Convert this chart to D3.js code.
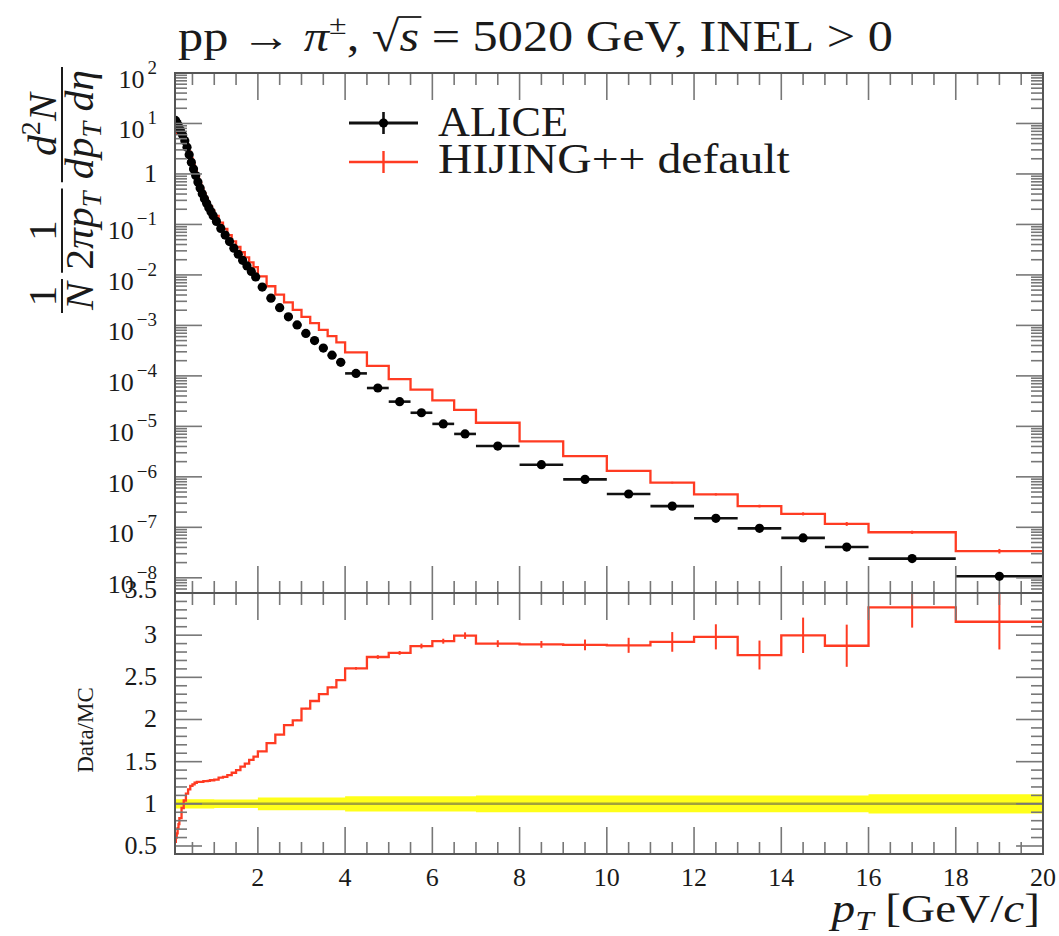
<!DOCTYPE html>
<html>
<head>
<meta charset="utf-8">
<script src="https://cdn.jsdelivr.net/npm/d3@7"></script>
<style>
  body { margin: 0; background: #fff; }
  svg { display: block; }
  text { font-family: 'Liberation Serif', 'DejaVu Serif', serif; fill: #1a1a1a; }
</style>
</head>
<body>
<div id="chart"></div>
<script>
// bin edges in pT [GeV/c]
var ptEdges = [0.1, 0.12, 0.14, 0.16, 0.18, 0.2,
    0.25, 0.3, 0.35, 0.4, 0.45, 0.5, 0.55, 0.6, 0.65, 0.7, 0.75, 0.8, 0.85, 0.9, 0.95, 1.0,
    1.1, 1.2, 1.3, 1.4, 1.5, 1.6, 1.7, 1.8, 1.9, 2.0,
    2.2, 2.4, 2.6, 2.8, 3.0, 3.2, 3.4, 3.6, 3.8, 4.0,
    4.5, 5.0, 5.5, 6.0, 6.5, 7.0,
    8, 9, 10, 11, 12, 13, 14, 15, 16,
    18, 20];

// ALICE invariant yield per bin
var aliceYield = [11.5, 10.7, 10.0, 9.12, 8.32,
    7.24, 5.89, 4.57, 3.39, 2.40, 1.70, 1.26, 0.933, 0.692, 0.525, 0.407, 0.324, 0.263, 0.214, 0.178, 0.148,
    0.115, 0.0832, 0.0617, 0.0457, 0.0339, 0.0257, 0.0195, 0.0151, 0.0117, 0.00912,
    0.00575, 0.00347, 0.00224, 0.00148, 0.00102, 6.92e-4, 5.01e-4, 3.55e-4, 2.57e-4, 1.86e-4,
    1.12e-4, 5.75e-5, 3.09e-5, 1.86e-5, 1.12e-5, 7.08e-6,
    4.07e-6, 1.74e-6, 8.91e-7, 4.57e-7, 2.63e-7, 1.51e-7, 9.55e-8, 6.17e-8, 4.07e-8,
    2.40e-8, 1.07e-8];

// ALICE relative uncertainty (yellow band)
var aliceRelErr = [0.055, 0.055, 0.055, 0.055, 0.055,
    0.055, 0.055, 0.055, 0.055, 0.055, 0.055, 0.055, 0.055, 0.055, 0.055, 0.055, 0.055, 0.055, 0.055, 0.055, 0.055,
    0.05, 0.05, 0.05, 0.05, 0.05, 0.05, 0.05, 0.05, 0.05, 0.05,
    0.075, 0.075, 0.075, 0.075, 0.075, 0.075, 0.075, 0.075, 0.075, 0.075,
    0.09, 0.09, 0.09, 0.09, 0.09, 0.09,
    0.1, 0.1, 0.1, 0.1, 0.1, 0.1, 0.1, 0.1, 0.1,
    0.115, 0.115];

// HIJING++ default per bin
var hijingYield = [6.33, 6.42, 6.50, 6.48, 6.32,
    6.01, 5.60, 4.75, 3.80, 2.81, 2.06, 1.55, 1.166, 0.872, 0.662, 0.513, 0.411, 0.334, 0.272, 0.228, 0.189,
    0.148, 0.109, 0.0814, 0.0612, 0.0464, 0.0360, 0.0281, 0.0223, 0.0178, 0.01423,
    0.00932, 0.00597, 0.00408, 0.00286, 0.00203, 1.474e-3, 1.112e-3, 8.17e-4, 6.12e-4, 4.59e-4,
    2.92e-4, 1.576e-4, 8.62e-5, 5.34e-5, 3.28e-5, 2.12e-5,
    1.18e-5, 5.03e-6, 2.57e-6, 1.316e-6, 7.68e-7, 4.50e-7, 2.64e-7, 1.85e-7, 1.17e-7,
    7.99e-8, 3.38e-8];

// HIJING++ relative statistical error
var hijingRelErr = [0.002, 0.002, 0.002, 0.002, 0.002,
    0.002, 0.002, 0.002, 0.002, 0.002, 0.002, 0.002, 0.002, 0.002, 0.002, 0.002, 0.002, 0.002, 0.002, 0.002, 0.002,
    0.003, 0.003, 0.003, 0.003, 0.003, 0.003, 0.003, 0.003, 0.003, 0.003,
    0.004, 0.004, 0.004, 0.004, 0.004, 0.004, 0.004, 0.004, 0.004, 0.004,
    0.006, 0.008, 0.008, 0.01, 0.01, 0.013,
    0.014, 0.014, 0.022, 0.031, 0.04, 0.05, 0.062, 0.07, 0.087,
    0.072, 0.104];

var xMajorTicks = [2, 4, 6, 8, 10, 12, 14, 16, 18, 20];
var xMinorStep = 0.5;
var yExponents = [-8, -7, -6, -5, -4, -3, -2, -1, 0, 1, 2];
var ratioMajorTicks = [0.5, 1, 1.5, 2, 2.5, 3, 3.5];
var legendLabels = ['ALICE', 'HIJING++ default'];

var W = 1059, H = 936;
var frame = {left: 175, right: 1043, top: 73, mid: 593, bottom: 854};
var majorLen = 27, minorLen = 12;
var red = '#ff3b22';
var tickColor = '#777';

var svg = d3.select('#chart').append('svg')
    .attr('width', W)
    .attr('height', H);

var x = d3.scaleLinear().domain([0.1, 20]).range([frame.left, frame.right]);
var y = d3.scaleLog().domain([5e-9, 100]).range([frame.mid, frame.top]);
var yr = d3.scaleLinear().domain([0.405, 3.5]).range([frame.bottom, frame.mid]);

var bins = aliceYield.map(function(v, i) {
    return {
        lo: ptEdges[i], hi: ptEdges[i + 1], mid: (ptEdges[i] + ptEdges[i + 1]) / 2,
        data: v, dErr: aliceRelErr[i],
        mc: hijingYield[i], mErr: hijingRelErr[i],
        ratio: hijingYield[i] / v
    };
});

// clip paths
var defs = svg.append('defs');
defs.append('clipPath').attr('id', 'clipMain').append('rect')
    .attr('x', frame.left).attr('y', frame.top)
    .attr('width', frame.right - frame.left).attr('height', frame.mid - frame.top);
defs.append('clipPath').attr('id', 'clipRatio').append('rect')
    .attr('x', frame.left).attr('y', frame.mid)
    .attr('width', frame.right - frame.left).attr('height', frame.bottom - frame.mid);

// step points for histograms
function stepPoints(acc) {
    var pts = bins.map(function(b) { return [b.lo, acc(b)]; });
    pts.push([bins[bins.length - 1].hi, acc(bins[bins.length - 1])]);
    return pts;
}

// ---------- ratio panel ----------
var ratioG = svg.append('g').attr('clip-path', 'url(#clipRatio)');

var band = d3.area()
    .x(function(d) { return x(d[0]); })
    .y0(function(d) { return yr(1 - d[1]); })
    .y1(function(d) { return yr(1 + d[1]); })
    .curve(d3.curveStepAfter);
ratioG.append('path')
    .attr('d', band(stepPoints(function(b) { return b.dErr; })))
    .attr('fill', '#ffff1a');

ratioG.append('line')
    .attr('x1', x(0.1)).attr('x2', x(20))
    .attr('y1', yr(1)).attr('y2', yr(1))
    .attr('stroke', '#555').attr('stroke-opacity', 0.55).attr('stroke-width', 2.5);

var ratioLine = d3.line()
    .x(function(d) { return x(d[0]); })
    .y(function(d) { return yr(d[1]); })
    .curve(d3.curveStepAfter);
ratioG.append('path')
    .attr('d', ratioLine(stepPoints(function(b) { return b.ratio; })))
    .attr('fill', 'none').attr('stroke', red).attr('stroke-width', 2.3);

ratioG.selectAll('.rerr').data(bins).enter().append('line')
    .attr('x1', function(d) { return x(d.mid); })
    .attr('x2', function(d) { return x(d.mid); })
    .attr('y1', function(d) { return yr(d.ratio * (1 - d.mErr)); })
    .attr('y2', function(d) { return yr(d.ratio * (1 + d.mErr)); })
    .attr('stroke', red).attr('stroke-width', 2);

// ---------- main panel ----------
var mainG = svg.append('g').attr('clip-path', 'url(#clipMain)');

var mcLine = d3.line()
    .x(function(d) { return x(d[0]); })
    .y(function(d) { return y(d[1]); })
    .curve(d3.curveStepAfter);
mainG.append('path')
    .attr('d', mcLine(stepPoints(function(b) { return b.mc; })))
    .attr('fill', 'none').attr('stroke', red).attr('stroke-width', 2.3);

mainG.selectAll('.merr').data(bins).enter().append('line')
    .attr('x1', function(d) { return x(d.mid); })
    .attr('x2', function(d) { return x(d.mid); })
    .attr('y1', function(d) { return y(d.mc * (1 - d.mErr)); })
    .attr('y2', function(d) { return y(d.mc * (1 + d.mErr)); })
    .attr('stroke', red).attr('stroke-width', 2);

// data: horizontal bin-width bars, vertical error bars, dots
mainG.selectAll('.dx').data(bins).enter().append('line')
    .attr('x1', function(d) { return x(d.lo); })
    .attr('x2', function(d) { return x(d.hi); })
    .attr('y1', function(d) { return y(d.data); })
    .attr('y2', function(d) { return y(d.data); })
    .attr('stroke', '#111').attr('stroke-width', 2.6);
mainG.selectAll('.dy').data(bins).enter().append('line')
    .attr('x1', function(d) { return x(d.mid); })
    .attr('x2', function(d) { return x(d.mid); })
    .attr('y1', function(d) { return y(d.data * (1 - d.dErr)); })
    .attr('y2', function(d) { return y(d.data * (1 + d.dErr)); })
    .attr('stroke', '#111').attr('stroke-width', 2.6);
mainG.selectAll('circle').data(bins).enter().append('circle')
    .attr('cx', function(d) { return x(d.mid); })
    .attr('cy', function(d) { return y(d.data); })
    .attr('r', 4.6)
    .attr('fill', '#000');

// ---------- ticks ----------
var tickG = svg.append('g').attr('stroke', tickColor).attr('stroke-width', 1.6);

var xMinor = d3.range(xMinorStep, 20, xMinorStep).filter(function(v) { return v % 2 !== 0; });

function xTicks(yPos, dir) {
    tickG.selectAll(null).data(xMajorTicks.filter(function(v) { return v < 20; })).enter().append('line')
        .attr('x1', function(d) { return x(d); }).attr('x2', function(d) { return x(d); })
        .attr('y1', yPos).attr('y2', yPos + dir * majorLen);
    tickG.selectAll(null).data(xMinor).enter().append('line')
        .attr('x1', function(d) { return x(d); }).attr('x2', function(d) { return x(d); })
        .attr('y1', yPos).attr('y2', yPos + dir * minorLen);
}
xTicks(frame.top, 1);
xTicks(frame.mid, -1);
xTicks(frame.mid, 1);
xTicks(frame.bottom, -1);

// log y ticks main panel
var logMinor = [];
d3.range(-9, 2).forEach(function(k) {
    d3.range(2, 10).forEach(function(m) {
        var v = m * Math.pow(10, k);
        if (v > 5e-9 && v < 100) logMinor.push(v);
    });
});
var logMajor = yExponents.map(function(k) { return Math.pow(10, k); });

function yTicks(scale, majors, minors, xPos, dir) {
    tickG.selectAll(null).data(majors).enter().append('line')
        .attr('y1', function(d) { return scale(d); }).attr('y2', function(d) { return scale(d); })
        .attr('x1', xPos).attr('x2', xPos + dir * majorLen);
    tickG.selectAll(null).data(minors).enter().append('line')
        .attr('y1', function(d) { return scale(d); }).attr('y2', function(d) { return scale(d); })
        .attr('x1', xPos).attr('x2', xPos + dir * minorLen);
}
yTicks(y, logMajor, logMinor, frame.left, 1);
yTicks(y, logMajor, logMinor, frame.right, -1);

var ratioMinor = d3.range(5, 35).map(function(v) { return v / 10; })
    .filter(function(v) { return Math.round(v * 10) % 5 !== 0; });
yTicks(yr, ratioMajorTicks, ratioMinor, frame.left, 1);
yTicks(yr, ratioMajorTicks, ratioMinor, frame.right, -1);

// frames
svg.append('rect')
    .attr('x', frame.left).attr('y', frame.top)
    .attr('width', frame.right - frame.left).attr('height', frame.bottom - frame.top)
    .attr('fill', 'none').attr('stroke', '#555').attr('stroke-width', 2);
svg.append('line')
    .attr('x1', frame.left).attr('x2', frame.right)
    .attr('y1', frame.mid).attr('y2', frame.mid)
    .attr('stroke', '#555').attr('stroke-width', 2);

// ---------- tick labels ----------
var labelG = svg.append('g');
var labelRight = 157;

yExponents.forEach(function(k) {
    var yy = y(Math.pow(10, k));
    if (k === 0) {
        labelG.append('text').attr('x', labelRight).attr('y', yy + 8)
            .attr('text-anchor', 'end').style('font-size', '26px').text('1');
    } else {
        var t = labelG.append('text').attr('x', labelRight).attr('y', yy + 15)
            .attr('text-anchor', 'end').style('font-size', '26px');
        t.append('tspan').text('10');
        t.append('tspan').attr('dx', 3).attr('dy', -14).style('font-size', '19px')
            .text(k < 0 ? '\u2212' + (-k) : String(k));
    }
});

ratioMajorTicks.forEach(function(v) {
    labelG.append('text')
        .attr('x', labelRight)
        .attr('y', v === 3.5 ? yr(v) + 5 : yr(v) + 8)
        .attr('text-anchor', 'end').style('font-size', '26px')
        .text(String(v));
});

xMajorTicks.forEach(function(v) {
    labelG.append('text')
        .attr('x', x(v)).attr('y', 886)
        .attr('text-anchor', 'middle').style('font-size', '26px')
        .text(String(v));
});

// ---------- helpers for composite text ----------
function runText(g, parts, fontSize) {
    var cx = 0;
    parts.forEach(function(p) {
        var t = g.append('text')
            .attr('x', cx).attr('y', p.dy || 0)
            .style('font-size', (p.size || fontSize) + 'px')
            .style('font-style', p.it ? 'italic' : 'normal')
            .text(p.t);
        p.x0 = cx;
        p.w = t.node().getComputedTextLength();
        cx += p.w;
    });
    return cx;
}

function fitWidth(g, x0, yBase, width) {
    var bb = g.node().getBBox();
    var s = width / bb.width;
    g.attr('transform', 'translate(' + (x0 - bb.x * s) + ',' + yBase + ') scale(' + s + ',1)');
}

// title
var titleG = svg.append('g');
var titleParts = [
    {t: 'pp\u00a0'}, {t: '\u2192\u00a0'}, {t: '\u03c0', it: true},
    {t: '\u00b1', size: 28, dy: -17}, {t: ',\u00a0'}, {t: '\u221a'},
    {t: 's', it: true}, {t: '\u00a0=\u00a05020\u00a0GeV,\u00a0INEL\u00a0>\u00a00'}
];
runText(titleG, titleParts, 44);
titleG.append('line')
    .attr('x1', titleParts[5].x0 + titleParts[5].w - 1)
    .attr('x2', titleParts[6].x0 + titleParts[6].w + 2)
    .attr('y1', -34).attr('y2', -34)
    .attr('stroke', '#1a1a1a').attr('stroke-width', 1.8);
fitWidth(titleG, 178, 51, 715);

// legend
var legendG = svg.append('g');
legendG.append('line').attr('x1', 349).attr('x2', 418).attr('y1', 123).attr('y2', 123)
    .attr('stroke', '#111').attr('stroke-width', 3);
legendG.append('line').attr('x1', 383.5).attr('x2', 383.5).attr('y1', 112).attr('y2', 134)
    .attr('stroke', '#111').attr('stroke-width', 2.6);
legendG.append('circle').attr('cx', 383.5).attr('cy', 123).attr('r', 4.6).attr('fill', '#000');
legendG.append('line').attr('x1', 349).attr('x2', 418).attr('y1', 162).attr('y2', 162)
    .attr('stroke', red).attr('stroke-width', 2.6);
legendG.append('line').attr('x1', 383.5).attr('x2', 383.5).attr('y1', 151).attr('y2', 173)
    .attr('stroke', red).attr('stroke-width', 2.4);

var leg1 = svg.append('g');
runText(leg1, [{t: legendLabels[0]}], 43);
fitWidth(leg1, 438, 136, 130);
var leg2 = svg.append('g');
runText(leg2, [{t: legendLabels[1].replace(' ', '\u00a0')}], 43);
fitWidth(leg2, 438, 173, 352);

// x axis label
var xLabG = svg.append('g');
runText(xLabG, [
    {t: 'p', it: true}, {t: 'T', it: true, size: 28, dy: 8},
    {t: '\u00a0[GeV/'}, {t: 'c', it: true}, {t: ']'}
], 40);
fitWidth(xLabG, 828, 922, 212);

// ratio y label
svg.append('text')
    .attr('transform', 'translate(93,730) rotate(-90)')
    .attr('text-anchor', 'middle')
    .style('font-size', '23px')
    .text('Data/MC');

// main y label: 1/N 1/(2pi pT) d2N/(dpT deta)
var yLabOuter = svg.append('g').attr('transform', 'translate(62,0) rotate(-90)');
var yLab = yLabOuter.append('g');
var fracs = [
    {num: [{t: '1'}], den: [{t: 'N', it: true}]},
    {num: [{t: '1'}], den: [{t: '2'}, {t: '\u03c0', it: true}, {t: 'p', it: true}, {t: 'T', it: true, size: 27, dy: 8}]},
    {num: [{t: 'd', it: true}, {t: '2', size: 27, dy: -16}, {t: 'N', it: true}],
     den: [{t: 'd', it: true}, {t: 'p', it: true}, {t: 'T', it: true, size: 27, dy: 8}, {t: '\u00a0d', it: true}, {t: '\u03b7', it: true}]}
];
var cur = 0;
fracs.forEach(function(f) {
    var ng = yLab.append('g');
    var nw = runText(ng, f.num, 40);
    var dg = yLab.append('g');
    var dw = runText(dg, f.den, 40);
    var w = Math.max(nw, dw) + 6;
    ng.attr('transform', 'translate(' + (cur + (w - nw) / 2) + ',-6)');
    dg.attr('transform', 'translate(' + (cur + (w - dw) / 2) + ',31)');
    yLab.append('line').attr('x1', cur).attr('x2', cur + w).attr('y1', 0).attr('y2', 0)
        .attr('stroke', '#1a1a1a').attr('stroke-width', 2);
    cur += w + 6;
});
var total = cur - 6;
yLab.attr('transform', 'translate(-313,0) scale(' + (246 / total) + ',1)');
</script>
</body>
</html>
